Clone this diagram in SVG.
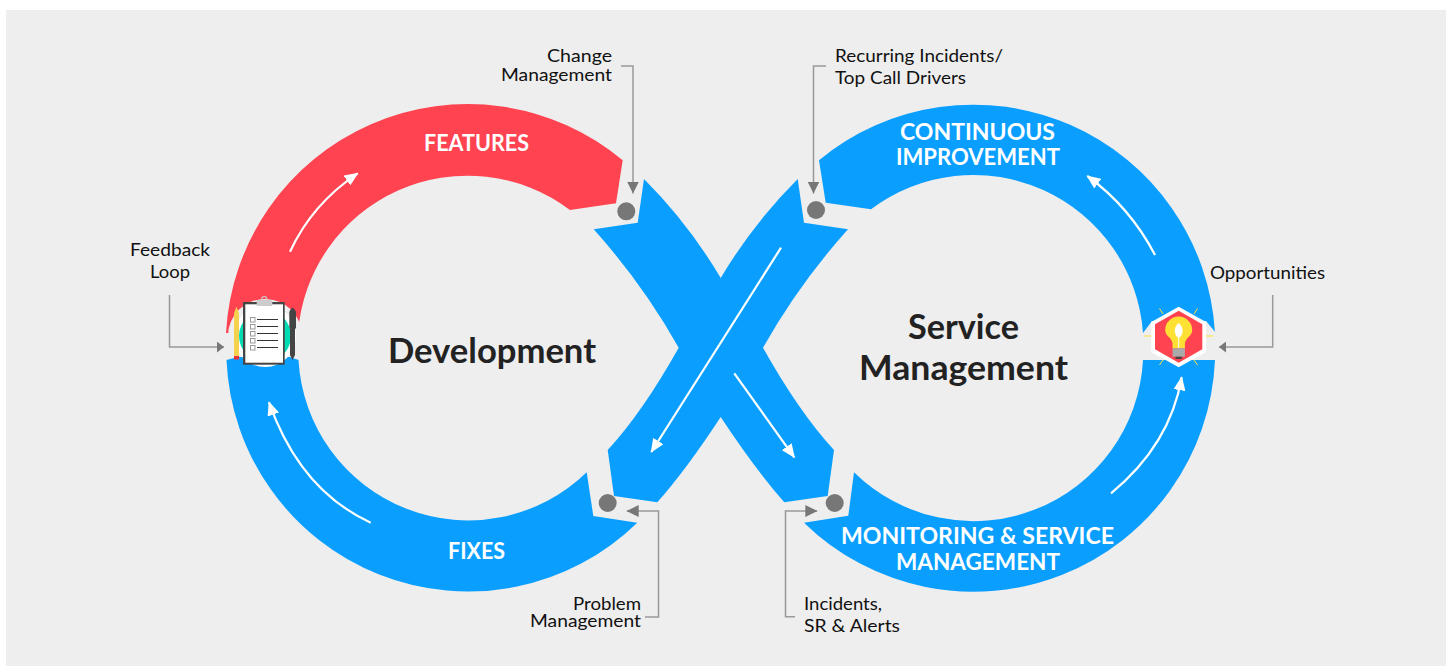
<svg xmlns="http://www.w3.org/2000/svg" width="1449" height="666" viewBox="0 0 1449 666">
<style>
text{font-family:"Lato","Liberation Sans",sans-serif}
.blue{fill:#0a9fff}
.red{fill:#ff4351}
.bg{fill:#eeeeee}
.dot{fill:#777777}
.note{font-size:18px;fill:#111111}
.band{font-size:23px;font-weight:700;fill:#ffffff}
.title{font-size:35px;font-weight:700;fill:#222222}
.lead{fill:none;stroke:#999999;stroke-width:1.5}
.flow{fill:none;stroke:#ffffff;stroke-width:2.2}
.ray{stroke:#ffe135;stroke-width:1;fill:none}
.rule{stroke:#333333;stroke-width:1;fill:none}
.box{stroke:#999999;stroke-width:1;fill:#ffffff}
</style>
<defs>
<marker id="gh" markerUnits="userSpaceOnUse" markerWidth="12" markerHeight="12" refX="12" refY="6" orient="auto"><path d="M0,0L12,6L0,12z" fill="#777777"/></marker>
<marker id="gs" markerUnits="userSpaceOnUse" markerWidth="7" markerHeight="11" refX="7" refY="5.5" orient="auto"><path d="M0,0L7,5.5L0,11z" fill="#777777"/></marker>
<marker id="wh" markerUnits="userSpaceOnUse" markerWidth="14" markerHeight="12" refX="13" refY="6" orient="auto"><path d="M0,0L14,6L0,12z" fill="#ffffff"/></marker>
</defs>
<rect x="6" y="10" width="1440" height="656" class="bg"/>
<g id="features"><path class="red" d="M226,333A242,242 0 0 1 622.7,160.3L616,203.3L570,210A170,170 0 0 0 298,333z"/><circle class="bg" cx="265" cy="336" r="37"/><text class="band" x="424" y="150.5" textLength="105" lengthAdjust="spacingAndGlyphs">FEATURES</text></g>
<g id="fixes"><path class="blue" d="M226.5,360L238,357L290,357L298.5,360A170,170 0 0 0 586.7,472.3L593.3,516L637.3,522.7A242,242 0 0 1 226.5,360z"/><text class="band" x="448" y="558.5" textLength="57" lengthAdjust="spacingAndGlyphs">FIXES</text></g>
<g id="continuous-improvement"><path class="blue" d="M819,160.3A242,242 0 0 1 1215,333L1143,333A170,170 0 0 0 871,209.3L825.7,202.7z"/><text class="band" x="900" y="140" textLength="155" lengthAdjust="spacingAndGlyphs">CONTINUOUS</text><text class="band" x="896" y="165" textLength="164" lengthAdjust="spacingAndGlyphs">IMPROVEMENT</text></g>
<g id="monitoring"><path class="blue" d="M1215,360A242,242 0 0 1 804,522.7L848.3,515.7L854,472.3A170,170 0 0 0 1143,360z"/><text class="band" x="841" y="544" textLength="273" lengthAdjust="spacingAndGlyphs">MONITORING &amp; SERVICE</text><text class="band" x="896" y="570" textLength="164" lengthAdjust="spacingAndGlyphs">MANAGEMENT</text></g>
<g id="crossover"><path class="blue" d="M644,179Q688.6,223.6 720.7,278Q753,223.6 797.7,179L804,222.7L848,229.3Q799,283.8 763,347.7Q799,412 834,450L827.7,496L784.3,502.3Q755.7,470 720.7,417Q686,470 657.3,502.3L614,496L607.7,450Q642.7,412 678.7,347.7Q642.7,283.8 593.7,229.3L637.7,222.7z"/></g>
<g id="development"><text class="title" x="388" y="363" textLength="208" lengthAdjust="spacingAndGlyphs">Development</text></g>
<g id="service-management"><text class="title" x="908" y="339" textLength="111" lengthAdjust="spacingAndGlyphs">Service</text><text class="title" x="859" y="380" textLength="209" lengthAdjust="spacingAndGlyphs">Management</text></g>
<g id="feedback-icon">
<circle cx="265" cy="336" r="31" fill="#ffffff"/>
<circle cx="265" cy="336" r="26" fill="#00dcb4"/>
<path d="M234,313.3L236.5,306.7L239,313.3V356H234z" fill="#f4d24e"/>
<rect x="234" y="356" width="5" height="3.5" fill="#e8333f"/>
<rect x="243" y="302" width="41.7" height="62.7" fill="#444444"/>
<rect x="245.3" y="304.3" width="37.7" height="58.4" fill="#ffffff"/>
<circle cx="264.3" cy="299" r="2.5" fill="none" stroke="#cccccc" stroke-width="1.2"/>
<rect x="256.7" y="300" width="15.6" height="6" fill="#cccccc"/>
<rect class="box" x="250.5" y="317.5" width="4.5" height="4.5"/><rect class="box" x="250.5" y="324.5" width="4.5" height="4.5"/><rect class="box" x="250.5" y="331.5" width="4.5" height="4.5"/><rect class="box" x="250.5" y="338.5" width="4.5" height="4.5"/><rect class="box" x="250.5" y="345.5" width="4.5" height="4.5"/>
<path class="rule" d="M257,319.5H278M257,326.5H278M257,333.5H278M257,340.5H278M257,347.5H278"/>
<path d="M289.3,312Q292.5,304 296,312V328.5H295V355L292.5,360L290,355V328.5H289.3z" fill="#444444"/>
</g>
<g id="opportunity-icon">
<path class="bg" d="M1130,333H1143L1152,321H1206L1216,333H1225V359H1216L1206,352H1152L1143,359H1130z"/>
<path class="ray" d="M1144,336H1151.5M1206,336H1213.5M1159.5,308.5L1163,314M1197.5,308.5L1194,314M1159.5,365L1163,360M1197.5,365L1194,360"/>
<path d="M1178.7,306.7L1206,322V352L1178.7,367.3L1151.3,352V322z" fill="#ffffff"/>
<path d="M1178.7,310.7L1202.3,324.3V349.3L1178.7,362.7L1155,349.3V324.3z" fill="#ff4351"/>
<path d="M1172.5,348.3V343C1171,337 1165.2,336 1165.2,330A13.5,13.5 0 1 1 1192.2,330C1192.2,336 1186.4,337 1184.9,343V348.3z" fill="#ffe135"/>
<rect x="1172.5" y="348.3" width="12.4" height="8.4" fill="#aaaaaa"/>
<rect x="1175.5" y="356.7" width="6.4" height="2.3" fill="#444444"/>
<path d="M1178.7,323C1173.5,327 1173.5,335 1178.7,338C1183.9,335 1183.9,327 1178.7,323z" fill="#ffffff"/>
<path d="M1178.7,335V348" stroke="#ffffff" stroke-width="1" fill="none"/>
</g>
<g id="connectors">
<path class="lead" marker-end="url(#gh)" d="M621,66H633V193.5"/>
<path class="lead" marker-end="url(#gh)" d="M826,66H813.5V193.5"/>
<path class="lead" marker-end="url(#gh)" d="M645,617H658.5V511H626.7"/>
<path class="lead" marker-end="url(#gh)" d="M795,616.7H785.5V511H817.3"/>
<path class="lead" marker-end="url(#gs)" d="M169.5,295V347H224"/>
<path class="lead" marker-end="url(#gs)" d="M1272.7,295V347H1219"/>
<path class="flow" marker-end="url(#wh)" d="M290,251.7Q312,204 357.7,173.3"/>
<path class="flow" marker-end="url(#wh)" d="M1155,255Q1130,207 1087.3,176"/>
<path class="flow" marker-end="url(#wh)" d="M370.7,522.7Q300,490 269,402.3"/>
<path class="flow" marker-end="url(#wh)" d="M1111,493.3Q1170,445 1181.7,377.3"/>
<path class="flow" marker-end="url(#wh)" d="M781,247.7L651.3,452"/>
<path class="flow" marker-end="url(#wh)" d="M734.3,373.3L794.3,457.3"/>
</g>
<g id="change-management"><circle class="dot" cx="626.3" cy="211.3" r="9"/><text class="note" x="547" y="62" textLength="65" lengthAdjust="spacingAndGlyphs">Change</text><text class="note" x="501" y="81" textLength="111" lengthAdjust="spacingAndGlyphs">Management</text></g>
<g id="recurring-incidents"><circle class="dot" cx="816" cy="210" r="9"/><text class="note" x="835" y="62" textLength="168" lengthAdjust="spacingAndGlyphs">Recurring Incidents/</text><text class="note" x="835" y="84" textLength="131" lengthAdjust="spacingAndGlyphs">Top Call Drivers</text></g>
<g id="problem-management"><circle class="dot" cx="607.7" cy="503" r="9"/><text class="note" x="573" y="610" textLength="68" lengthAdjust="spacingAndGlyphs">Problem</text><text class="note" x="530" y="627" textLength="111" lengthAdjust="spacingAndGlyphs">Management</text></g>
<g id="incidents"><circle class="dot" cx="834.7" cy="503" r="9"/><text class="note" x="804" y="610" textLength="78" lengthAdjust="spacingAndGlyphs">Incidents,</text><text class="note" x="804" y="632" textLength="96" lengthAdjust="spacingAndGlyphs">SR &amp; Alerts</text></g>
<g id="feedback-loop"><text class="note" x="130" y="256" textLength="80" lengthAdjust="spacingAndGlyphs">Feedback</text><text class="note" x="150" y="278" textLength="40" lengthAdjust="spacingAndGlyphs">Loop</text></g>
<g id="opportunities"><text class="note" x="1210" y="279" textLength="115" lengthAdjust="spacingAndGlyphs">Opportunities</text></g>
</svg>
